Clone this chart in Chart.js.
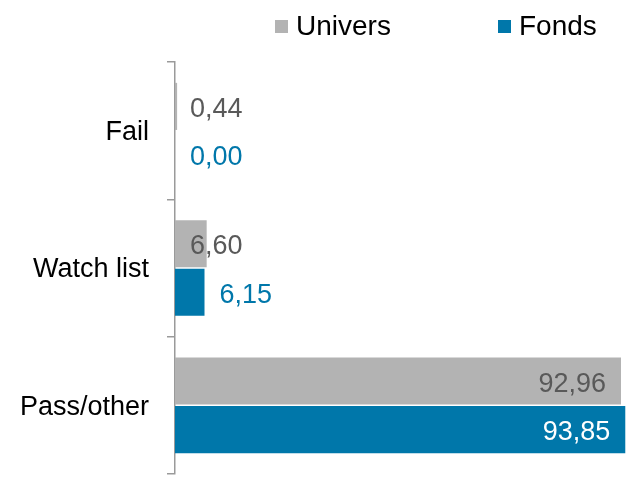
<!DOCTYPE html>
<html>
<head>
<meta charset="utf-8">
<script src="https://cdn.jsdelivr.net/npm/chart.js@4"></script>
<style>
  html, body { margin: 0; padding: 0; background: #fff; }
  #wrap { width: 626px; height: 494px; }
</style>
</head>
<body>
<div id="wrap"><canvas id="chart" width="626" height="494"></canvas></div>
<script>
const categories = ['Fail', 'Watch list', 'Pass/other'];
const seriesNames = ['Univers', 'Fonds'];
const universValues = [0.44, 6.60, 92.96];
const fondsValues = [0.00, 6.15, 93.85];

const FONT = '"Liberation Sans", Arial, sans-serif';
const GRAY = '#B3B3B3';
const BLUE = '#0077AA';

// value labels, drawn next to / inside each bar
const valueLabels = {
    id: 'valueLabels',
    afterDatasetsDraw(chart) {
        const ctx = chart.ctx;
        ctx.save();
        ctx.font = '27px ' + FONT;
        ctx.textBaseline = 'middle';
        chart.data.datasets.forEach((ds, di) => {
            const meta = chart.getDatasetMeta(di);
            meta.data.forEach((bar, i) => {
                const v = ds.data[i];
                const text = v.toFixed(2).replace('.', ',');
                let x;
                if (v > 50) {
                    ctx.textAlign = 'right';
                    ctx.fillStyle = ds.insideColor;
                    x = bar.x - 15;
                } else {
                    ctx.textAlign = 'left';
                    ctx.fillStyle = ds.labelColor;
                    x = ds.labelAnchor === 'base' ? bar.base + 15 : bar.x + 15;
                }
                ctx.fillText(text, x, bar.y + 3);
            });
        });
        ctx.restore();
    }
};

// legend at the top right
const topLegend = {
    id: 'topLegend',
    afterDraw(chart) {
        const ctx = chart.ctx;
        const items = [{ x: 275, ds: 0 }, { x: 498, ds: 1 }];
        ctx.save();
        ctx.font = '28px ' + FONT;
        ctx.textBaseline = 'middle';
        ctx.textAlign = 'left';
        items.forEach(it => {
            const ds = chart.data.datasets[it.ds];
            ctx.fillStyle = ds.backgroundColor;
            ctx.fillRect(it.x, 20, 13, 13);
            ctx.fillStyle = '#000';
            ctx.fillText(ds.label, it.x + 21, 27);
        });
        ctx.restore();
    }
};

new Chart(document.getElementById('chart'), {
    type: 'bar',
    data: {
        labels: categories,
        datasets: [
            { label: seriesNames[0], data: universValues, backgroundColor: GRAY,
              labelColor: '#595959', insideColor: '#595959', labelAnchor: 'base' },
            { label: seriesNames[1], data: fondsValues, backgroundColor: BLUE,
              labelColor: '#0077AA', insideColor: '#ffffff', labelAnchor: 'end' }
        ]
    },
    options: {
        indexAxis: 'y',
        responsive: false,
        animation: false,
        categoryPercentage: 0.707,
        barPercentage: 0.97,
        layout: { padding: { top: 62, right: 0, bottom: 20, left: 0 } },
        plugins: {
            legend: { display: false },
            tooltip: { enabled: false }
        },
        scales: {
            x: { display: false, min: 0, max: 94 },
            y: {
                afterFit(scale) {
                    scale.width = 175;
                    scale.paddingTop = 0;
                    scale.paddingBottom = 0;
                },
                border: { display: true, color: '#9A9A9A', width: 1.5 },
                grid: { drawOnChartArea: false, drawTicks: true, tickLength: 8, color: '#9A9A9A', lineWidth: 1.5, offset: true },
                ticks: { color: '#000', padding: 18, labelOffset: 2, font: { family: FONT, size: 27 } }
            }
        }
    },
    plugins: [valueLabels, topLegend]
});
</script>
</body>
</html>
